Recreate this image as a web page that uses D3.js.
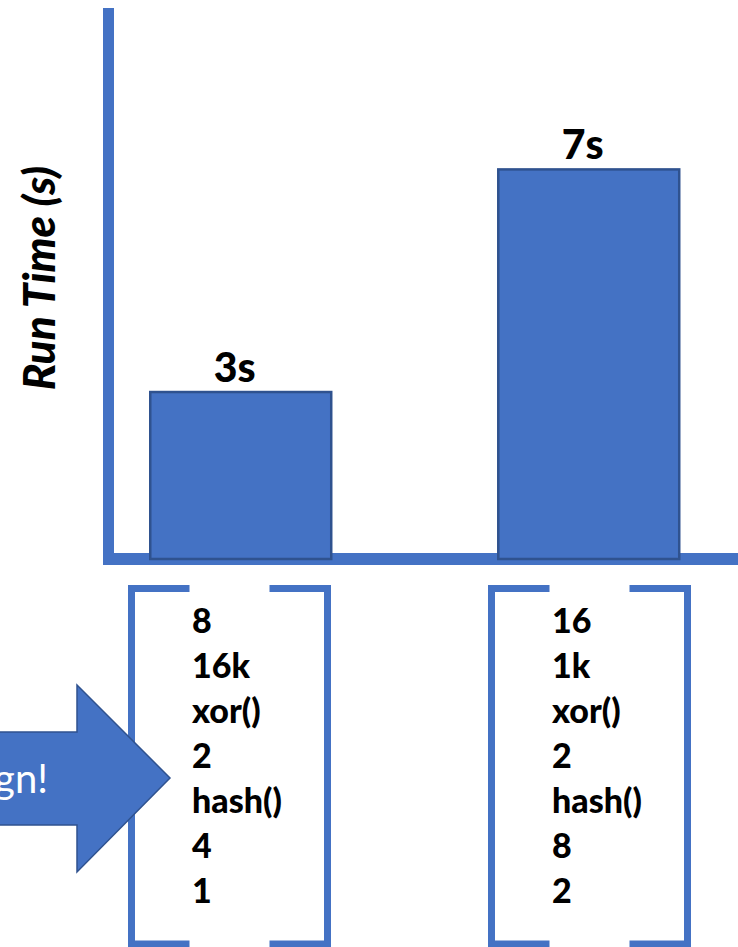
<!DOCTYPE html>
<html>
<head>
<meta charset="utf-8">
<script src="https://cdn.jsdelivr.net/npm/d3@7"></script>
<style>
  html, body { margin: 0; padding: 0; background: #ffffff; overflow: hidden; }
  svg { display: block; }
</style>
</head>
<body>
<svg id="chart" width="738" height="947"></svg>
<script>
// Run time of two configurations
const configNames = ["configA", "configB"];
const runTimes = [3, 7];
const valueLabels = ["3s", "7s"];
const configParams = [
  ["8", "16k", "xor()", "2", "hash()", "4", "1"],
  ["16", "1k", "xor()", "2", "hash()", "8", "2"]
];
const yAxisTitle = "Run Time (s)";
const arrowText = "Design!";

const W = 738, H = 947;
const BLUE = "#4472C4", DARK = "#2F528F";
const FONT = "Lato, 'Open Sans', sans-serif";
const svg = d3.select("#chart");

// Scales
const x = d3.scaleBand()
  .domain(configNames)
  .range([108.5, 721])
  .paddingInner(0.48)
  .paddingOuter(0.12);
const y = d3.scaleLinear()
  .domain([0, 9.9])
  .range([559, 8]);

// Axes drawn as heavy rules
const axisG = svg.append("g");
axisG.append("line")
  .attr("x1", x.range()[0]).attr("x2", x.range()[0])
  .attr("y1", y.range()[1]).attr("y2", y(0) + 6)
  .attr("stroke", BLUE).attr("stroke-width", 11);
axisG.append("line")
  .attr("x1", x.range()[0] - 5.5).attr("x2", W)
  .attr("y1", y(0)).attr("y2", y(0))
  .attr("stroke", BLUE).attr("stroke-width", 12);

// Bars
svg.append("g").selectAll("rect")
  .data(runTimes)
  .join("rect")
  .attr("x", (d, i) => x(configNames[i]))
  .attr("y", d => y(d))
  .attr("width", x.bandwidth())
  .attr("height", d => y(0) - y(d))
  .attr("fill", BLUE)
  .attr("stroke", DARK)
  .attr("stroke-width", 2.5);

// Value labels
svg.append("g").selectAll("text")
  .data(runTimes)
  .join("text")
  .attr("x", (d, i) => x(configNames[i]) + x.bandwidth() / 2 - 6)
  .attr("y", d => y(d) - 10)
  .attr("text-anchor", "middle")
  .attr("font-family", FONT)
  .attr("font-weight", 900)
  .attr("font-size", 41)
  .attr("fill", "#000")
  .text((d, i) => valueLabels[i]);

// Y axis title
svg.append("text")
  .attr("transform", "translate(55,278) rotate(-90)")
  .attr("text-anchor", "middle")
  .attr("font-family", FONT)
  .attr("font-weight", 900)
  .attr("font-style", "italic")
  .attr("font-size", 44)
  .attr("fill", "#000")
  .text(yAxisTitle);

// Parameter brackets under each bar
const bracketLeft = [131.5, 491.5];
const bracketW = 196, bracketTop = 588.5, bracketBottom = 944, arm = 58;
const brackets = svg.append("g");
configParams.forEach((params, i) => {
  const l = bracketLeft[i], r = l + bracketW;
  const g = brackets.append("g");
  const path = d3.path();
  path.moveTo(l + arm, bracketTop);
  path.lineTo(l, bracketTop);
  path.lineTo(l, bracketBottom);
  path.lineTo(l + arm, bracketBottom);
  path.moveTo(r - arm, bracketTop);
  path.lineTo(r, bracketTop);
  path.lineTo(r, bracketBottom);
  path.lineTo(r - arm, bracketBottom);
  g.append("path")
    .attr("d", path.toString())
    .attr("fill", "none")
    .attr("stroke", BLUE)
    .attr("stroke-width", 7);
  g.selectAll("text")
    .data(params)
    .join("text")
    .attr("x", l + 60.5)
    .attr("y", (d, k) => 633 + k * 45)
    .attr("font-family", FONT)
    .attr("font-weight", 900)
    .attr("font-size", 34)
    .attr("fill", "#000")
    .text(d => d);
});

// Block arrow pointing at the first configuration
const arrow = d3.path();
arrow.moveTo(-10, 732);
arrow.lineTo(77, 732);
arrow.lineTo(77, 685);
arrow.lineTo(170, 778);
arrow.lineTo(77, 872);
arrow.lineTo(77, 825);
arrow.lineTo(-10, 825);
arrow.closePath();
svg.append("path")
  .attr("d", arrow.toString())
  .attr("fill", BLUE)
  .attr("stroke", DARK)
  .attr("stroke-width", 1.5);
svg.append("text")
  .attr("x", 48)
  .attr("y", 793)
  .attr("text-anchor", "end")
  .attr("font-family", FONT)
  .attr("font-size", 40)
  .attr("fill", "#ffffff")
  .text(arrowText);
</script>
</body>
</html>
